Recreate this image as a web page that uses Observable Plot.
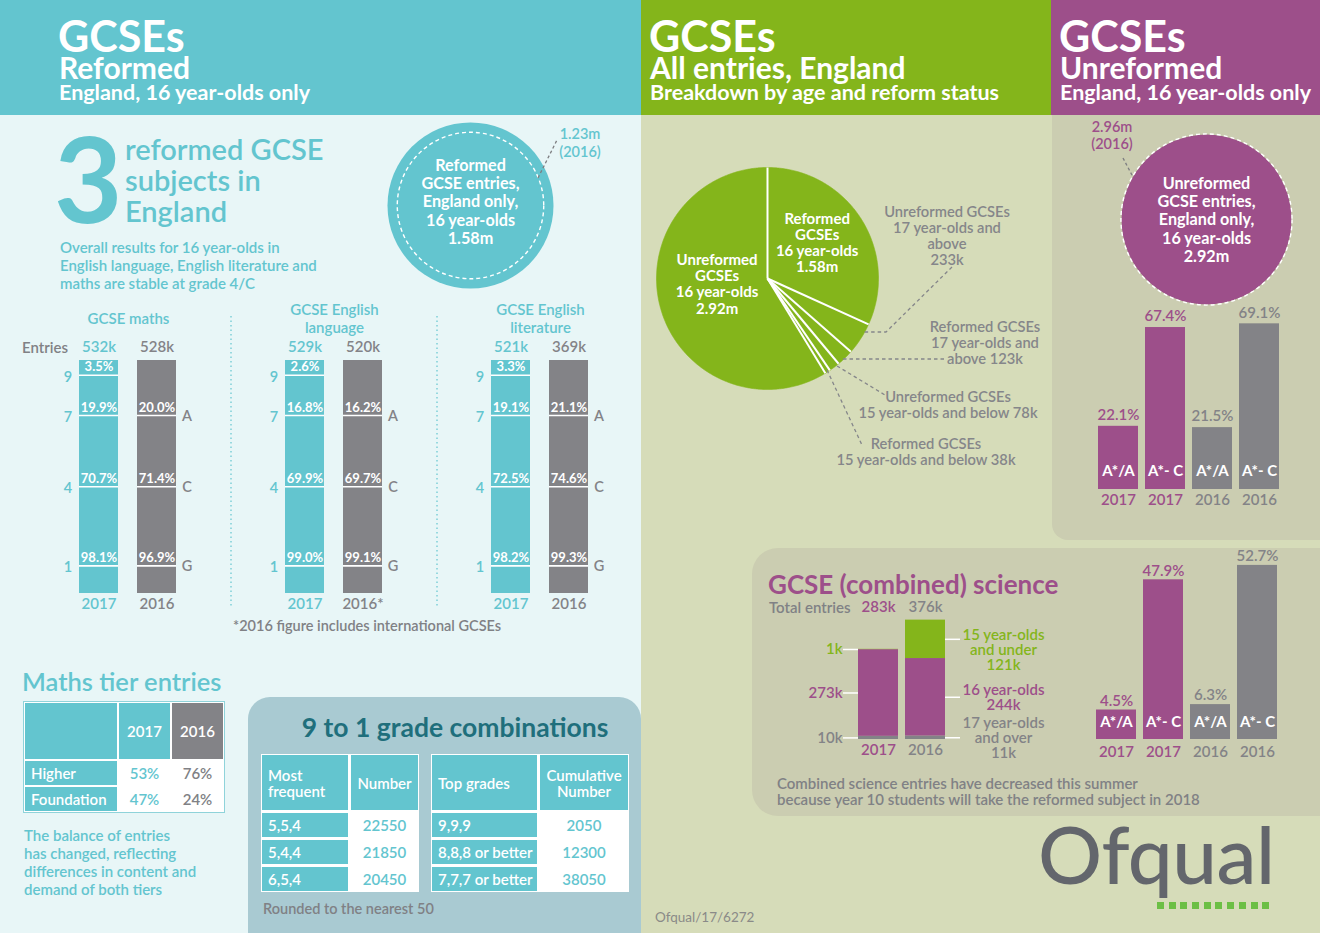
<!DOCTYPE html>
<html><head><meta charset="utf-8">
<script src="https://cdn.jsdelivr.net/npm/d3@7"></script>
<script src="https://cdn.jsdelivr.net/npm/@observablehq/plot@0.6"></script>
<style>
html,body{margin:0;padding:0;background:#d6dcb9;}
#root{position:relative;width:1320px;height:933px;overflow:hidden;background:#d6dcb9;font-family:Lato,"Open Sans",sans-serif;}
#root > svg{position:absolute;overflow:visible;}
</style></head>
<body><div id="root"></div>
<script>
// ---------------- DATA ----------------
const subjects = ["GCSE maths", "GCSE English language", "GCSE English literature"];
const subjectTitles = ["GCSE maths", "GCSE English\nlanguage", "GCSE English\nliterature"];
const years = ["2017", "2016"];
const yearLabels2016 = ["2016", "2016*", "2016"];
const entries2017 = [532, 529, 521];           // thousands
const entries2016 = [528, 520, 369];
const grades = [9, 7, 4, 1];
const letterGrades = [null, "A", "C", "G"];
const cumPct2017 = [[3.5, 19.9, 70.7, 98.1], [2.6, 16.8, 69.9, 99.0], [3.3, 19.1, 72.5, 98.2]];
const cumPct2016 = [[null, 20.0, 71.4, 96.9], [null, 16.2, 69.7, 99.1], [null, 21.1, 74.6, 99.3]];

const reformedEntries = [1.58, 1.23];          // millions: 2017, 2016
const unreformedEntries = [2.92, 2.96];

const pieSlices = ["Reformed GCSEs 16 year-olds", "Unreformed GCSEs 17 year-olds and above",
  "Reformed GCSEs 17 year-olds and above", "Unreformed GCSEs 15 year-olds and below",
  "Reformed GCSEs 15 year-olds and below", "Unreformed GCSEs 16 year-olds"];
const pieEntries = [1580, 233, 123, 78, 38, 2920];   // thousands

const unrefGrades = ["A*/A", "A*- C", "A*/A", "A*- C"];
const unrefYears = ["2017", "2017", "2016", "2016"];
const unrefPct = [22.1, 67.4, 21.5, 69.1];

const sciYears = ["2017", "2016"];
const sciAgeGroups = ["17 year-olds and over", "16 year-olds", "15 year-olds and under"];
const sciEntries2017 = [10, 273, 1];
const sciEntries2016 = [11, 244, 121];
const sciTotals = [283, 376];
const sciGrades = ["A*/A", "A*- C", "A*/A", "A*- C"];
const sciGradeYears = ["2017", "2017", "2016", "2016"];
const sciPct = [4.5, 47.9, 6.3, 52.7];

const tierNames = ["Higher", "Foundation"];
const tierPct2017 = [53, 47];
const tierPct2016 = [76, 24];

const frequentCombos = ["5,5,4", "5,4,4", "6,5,4"];
const frequentNumbers = [22550, 21850, 20450];
const topGradeCombos = ["9,9,9", "8,8,8 or better", "7,7,7 or better"];
const topGradeCumulative = [2050, 12300, 38050];

// ---------------- STYLE ----------------
const FONT = "Lato, 'Open Sans', sans-serif";
const C = {teal: "#63c5cf", tealBg: "#e8f6f7", grey: "#838387", greyText: "#808185", purple: "#9d4f8a",
  green: "#84b51b", olive: "#d6dcb9", oliveDark: "#cbcdb1", blueGrey: "#a9cad2", darkTeal: "#1f6f7c"};
const baseStyle = {background: "transparent", fontFamily: FONT, overflow: "visible"};
const root = document.getElementById("root");

function box(x, y, w, h, bg, extra = "") {
  const d = document.createElement("div");
  d.style.cssText = `position:absolute;left:${x}px;top:${y}px;width:${w}px;height:${h}px;background:${bg};${extra}`;
  root.appendChild(d); return d;
}
function label(str, {x, y, size = 14, weight = 600, color = C.greyText, align = "left", lh = Math.round(size * 1.2), extra = ""}) {
  const d = document.createElement("div");
  let left = x;
  if (align === "center") left = x - 400;
  if (align === "right") left = x - 800;
  d.style.cssText = `position:absolute;left:${left}px;top:${y - lh / 2}px;width:${align === "left" ? "auto" : "800px"};font:${weight} ${size}px/${lh}px ${FONT};color:${color};text-align:${align};white-space:pre;${extra}`;
  d.textContent = str;
  root.appendChild(d); return d;
}
function place(node, x, y) {
  node.style.position = "absolute"; node.style.left = x + "px"; node.style.top = y + "px";
  root.appendChild(node);
}

// ---------------- BACKGROUND PANELS ----------------
box(0, 0, 641, 933, C.tealBg);
box(0, 0, 641, 115, C.teal);
box(641, 0, 410, 115, C.green);
box(1051, 0, 269, 115, C.purple);
box(1052, 115, 268, 425, C.oliveDark, "border-bottom-left-radius:16px;");
box(752, 548, 568, 268, C.oliveDark, "border-radius:26px 0 0 26px;");
box(248, 697, 393, 236, C.blueGrey, "border-radius:22px 22px 0 0;");

// ---------------- HEADERS ----------------
function header(x, title, sub1, sub2) {
  label(title, {x: x - 1, y: 36, size: 43, weight: 700, color: "#fff", lh: 32});
  label(sub1, {x, y: 67, size: 30, weight: 700, color: "#fff", lh: 26});
  label(sub2, {x, y: 92, size: 21.5, weight: 700, color: "#fff", lh: 22});
}
header(59, "GCSEs", "Reformed", "England, 16 year-olds only");
header(650, "GCSEs", "All entries, England", "Breakdown by age and reform status");
header(1060, "GCSEs", "Unreformed", "England, 16 year-olds only");

// ---------------- LEFT: intro ----------------
label(String(subjects.length), {x: 54, y: 178, size: 118, weight: 700, color: C.teal, lh: 100});
label("reformed GCSE\nsubjects in\nEngland", {x: 125, y: 148, size: 29, weight: 600, color: C.teal, lh: 31});
label("Overall results for 16 year-olds in\nEnglish language, English literature and\nmaths are stable at grade 4/C",
  {x: 60, y: 247, size: 15, weight: 600, color: C.teal, lh: 18});

function bubble(values, color, r, text, dy) {
  return Plot.plot({
    width: 2 * r + 20, height: 2 * r + 20, margin: 0, style: baseStyle,
    x: {domain: [-1, 1], axis: null}, y: {domain: [-1, 1], axis: null},
    r: {type: "sqrt", domain: [0, values[0]], range: [0, r]},
    marks: [
      Plot.dot([values[0]], {x: () => 0, y: () => 0, r: d => d, fill: color, stroke: null}),
      Plot.dot([values[1]], {x: () => 0, y: () => 0, r: d => d, fill: "none", stroke: "white", strokeWidth: 1.4, strokeDasharray: "4,3"}),
      Plot.text([text], {x: () => 0, y: () => 0, text: d => d, fill: "white", fontSize: 16.2, fontWeight: 700, lineAnchor: "middle", lineHeight: 1.13, dy})
    ]
  });
}
place(bubble(reformedEntries, C.teal, 83, `Reformed\nGCSE entries,\nEngland only,\n16 year-olds\n${reformedEntries[0].toFixed(2)}m`, -4), 470 - 93, 205 - 93);
label(`${reformedEntries[1].toFixed(2)}m\n(2016)`, {x: 580, y: 134, size: 14.5, weight: 600, color: C.teal, align: "center", lh: 18});

// ---------------- LEFT: reformed grade bars ----------------
const GRADE_TOP = 10, GRADE_BOTTOM = 0;
const depth = g => GRADE_TOP - g;
const barRows = [], boundaryRows = [];
subjects.forEach((s, i) => {
  years.forEach((yr, k) => {
    barRows.push({subject: s, year: yr, entries: (k === 0 ? entries2017 : entries2016)[i], yearLabel: k === 0 ? yr : yearLabels2016[i]});
    const cum = (k === 0 ? cumPct2017 : cumPct2016)[i];
    grades.forEach((g, j) => {
      if (cum[j] != null) boundaryRows.push({subject: s, year: yr, grade: g, letter: letterGrades[j], pct: cum[j]});
    });
  });
});
const reformedPlot = Plot.plot({
  width: 644, height: 340, marginLeft: 24, marginRight: 0, marginTop: 70, marginBottom: 37, style: baseStyle,
  fx: {domain: subjects, padding: 0, axis: null},
  x: {domain: years, paddingInner: 0.322, paddingOuter: 0.9125, axis: null},
  y: {type: "pow", exponent: 1.2, domain: [0, 10], reverse: true, axis: null},
  color: {domain: years, range: [C.teal, C.grey]},
  marks: [
    Plot.barY(barRows, {fx: "subject", x: "year", y1: () => depth(GRADE_TOP), y2: () => depth(GRADE_BOTTOM), fill: "year"}),
    Plot.tickY(boundaryRows, {fx: "subject", x: "year", y: d => depth(d.grade), stroke: "white", strokeWidth: 1.6}),
    Plot.text(boundaryRows, {fx: "subject", x: "year", y: d => depth(d.grade), text: d => d.pct.toFixed(1) + "%", fill: "white", fontSize: 13, fontWeight: 700, dy: -8}),
    Plot.text(boundaryRows.filter(d => d.year === "2017"), {fx: "subject", x: "year", y: d => depth(d.grade), text: d => String(d.grade), fill: "year", dx: -31, dy: 2, fontSize: 14.5, fontWeight: 600}),
    Plot.text(boundaryRows.filter(d => d.year === "2016" && d.letter), {fx: "subject", x: "year", y: d => depth(d.grade), text: "letter", fill: "year", dx: 30, dy: 1, fontSize: 14.5, fontWeight: 600}),
    Plot.text(barRows, {fx: "subject", x: "year", y: () => depth(GRADE_TOP), text: d => d.entries + "k", fill: "year", dy: -13, fontSize: 15, fontWeight: 600}),
    Plot.text(barRows, {fx: "subject", x: "year", y: () => depth(GRADE_BOTTOM), text: "yearLabel", fill: "year", dy: 11, fontSize: 15, fontWeight: 600}),
    Plot.text(subjects, {fx: d => d, frameAnchor: "top", text: (d, i) => subjectTitles[i], fill: C.teal, dy: -42, lineAnchor: "middle", fontSize: 15, fontWeight: 600, lineHeight: 1.2})
  ]
});
place(reformedPlot, 0, 290);
label("Entries", {x: 22, y: 347, size: 15, weight: 600});
label("*2016 figure includes international GCSEs", {x: 233, y: 625, size: 14.5, weight: 600});

// ---------------- LEFT: maths tier table ----------------
label("Maths tier entries", {x: 22, y: 681, size: 25.5, weight: 600, color: C.teal, lh: 28});
function grid(x, y, cols, rows, gap, cells, extra = "") {
  const g = document.createElement("div");
  g.style.cssText = `position:absolute;left:${x}px;top:${y}px;display:grid;grid-template-columns:${cols.map(c => c + "px").join(" ")};grid-template-rows:${rows.map(r => r + "px").join(" ")};gap:${gap}px;background:#fff;padding:1px;${extra}`;
  cells.forEach(c => {
    const d = document.createElement("div");
    const left = c.align === "left";
    d.style.cssText = `background:${c.bg};color:${c.color || "#fff"};display:flex;align-items:center;justify-content:${left ? "flex-start" : "center"};padding-left:${left ? 6 : 0}px;font:600 15px/16px ${FONT};white-space:pre;text-align:${left ? "left" : "center"};overflow:hidden;`;
    d.textContent = c.text || "";
    g.appendChild(d);
  });
  root.appendChild(g);
}
const tierCells = [{bg: C.teal, text: ""}, {bg: C.teal, text: years[0]}, {bg: C.grey, text: years[1]}];
tierNames.forEach((n, i) => {
  tierCells.push({bg: C.teal, text: n, align: "left"}, {bg: "#fff", color: C.teal, text: tierPct2017[i] + "%"}, {bg: "#fff", color: C.greyText, text: tierPct2016[i] + "%"});
});
grid(24, 702, [92, 51, 51], [56, 24, 24], 2, tierCells, "outline:1.5px solid #8fd3da;");
label("The balance of entries\nhas changed, reflecting\ndifferences in content and\ndemand of both tiers", {x: 24, y: 835, size: 15, weight: 600, color: C.teal, lh: 18});

// ---------------- LEFT: 9 to 1 combinations ----------------
label("9 to 1 grade combinations", {x: 455, y: 727, size: 26.5, weight: 700, color: C.darkTeal, align: "center", lh: 30});
const freqCells = [{bg: C.teal, text: "Most\nfrequent", align: "left"}, {bg: C.teal, text: "Number"}];
frequentCombos.forEach((c, i) => freqCells.push({bg: C.teal, text: c, align: "left"}, {bg: "#fff", color: C.teal, text: String(frequentNumbers[i])}));
grid(261, 754, [86, 67], [55, 24, 24, 24], 3, freqCells);
const topCells = [{bg: C.teal, text: "Top grades", align: "left"}, {bg: C.teal, text: "Cumulative\nNumber"}];
topGradeCombos.forEach((c, i) => topCells.push({bg: C.teal, text: c, align: "left"}, {bg: "#fff", color: C.teal, text: String(topGradeCumulative[i])}));
grid(431, 754, [105, 88], [55, 24, 24, 24], 3, topCells);
label("Rounded to the nearest 50", {x: 263, y: 908, size: 14.5, weight: 600});

// ---------------- MIDDLE: pie ----------------
const pieArcs = d3.pie().sort(null).value(d => d)(pieEntries);
const pieOutline = [];
pieArcs.forEach((a, i) => {
  const n = Math.max(2, Math.ceil((a.endAngle - a.startAngle) / 0.01));
  pieOutline.push({slice: i, x: 0, y: 0});
  for (let k = 0; k <= n; k++) {
    const t = a.startAngle + (a.endAngle - a.startAngle) * k / n;
    pieOutline.push({slice: i, x: Math.sin(t), y: Math.cos(t)});
  }
  pieOutline.push({slice: i, x: 0, y: 0});
});
const fmtM = v => (v / 1000).toFixed(2) + "m";
const piePlot = Plot.plot({
  width: 240, height: 240, margin: 9, style: baseStyle,
  x: {domain: [-1, 1], axis: null}, y: {domain: [-1, 1], axis: null},
  marks: [
    Plot.line(pieOutline, {x: "x", y: "y", z: "slice", fill: C.green, stroke: C.green, strokeWidth: 0.6, curve: "linear"}),
    Plot.link(pieArcs, {x1: () => 0, y1: () => 0, x2: a => Math.sin(a.startAngle), y2: a => Math.cos(a.startAngle), stroke: "white", strokeWidth: 2}),
    Plot.text(pieArcs.filter(a => a.value >= 1000), {
      x: a => 0.5 * Math.sin((a.startAngle + a.endAngle) / 2), y: a => 0.46 * Math.cos((a.startAngle + a.endAngle) / 2),
      text: a => `${pieSlices[a.index].split(" ")[0]}\nGCSEs\n16 year-olds\n${fmtM(a.value)}`,
      fill: "white", fontSize: 15, fontWeight: 700, lineAnchor: "middle", lineHeight: 1.07, dy: -8, dx: 3
    })
  ]
});
place(piePlot, 647, 158);
const pieGrey = "#85868a";
label(`Unreformed GCSEs\n17 year-olds and\nabove\n${pieEntries[1]}k`, {x: 947, y: 211, size: 14.7, color: pieGrey, align: "center", lh: 16});
label(`Reformed GCSEs\n17 year-olds and\nabove ${pieEntries[2]}k`, {x: 985, y: 326, size: 14.7, color: pieGrey, align: "center", lh: 16});
label(`Unreformed GCSEs\n15 year-olds and below ${pieEntries[3]}k`, {x: 948, y: 396, size: 14.7, color: pieGrey, align: "center", lh: 16});
label(`Reformed GCSEs\n15 year-olds and below ${pieEntries[4]}k`, {x: 926, y: 443, size: 14.7, color: pieGrey, align: "center", lh: 16});

// ---------------- RIGHT: unreformed ----------------
place(bubble(unreformedEntries, C.purple, 85, `Unreformed\nGCSE entries,\nEngland only,\n16 year-olds\n${unreformedEntries[0].toFixed(2)}m`, 0), 1206 - 95, 219 - 95);
label(`${unreformedEntries[1].toFixed(2)}m\n(2016)`, {x: 1112, y: 126, size: 14.5, weight: 600, color: C.purple, align: "center", lh: 17});

const sideYearColor = {"2017": C.purple, "2016": C.grey};
function gradeBars(gr, yrs, pct, o) {
  const rows = gr.map((g, i) => ({key: i, grade: g, year: yrs[i], pct: pct[i]}));
  return Plot.plot({
    width: 201, height: o.height, marginLeft: 10, marginRight: 10, marginTop: o.marginTop, marginBottom: o.marginBottom, style: baseStyle,
    x: {domain: rows.map(d => d.key), paddingInner: 0.15, paddingOuter: 0, axis: null},
    y: {domain: [0, o.ymax], axis: null},
    color: {domain: years, range: [C.purple, C.grey]},
    marks: [
      Plot.barY(rows, {x: "key", y: "pct", fill: "year", insetBottom: -o.ext}),
      Plot.text(rows, {x: "key", y: "pct", text: d => d.pct.toFixed(1) + "%", fill: "year", dy: o.valueDy, fontSize: 15, fontWeight: 600}),
      Plot.text(rows, {x: "key", y: () => 0, text: "grade", fill: "white", dy: o.gradeDy, fontSize: 15, fontWeight: 700}),
      Plot.text(rows, {x: "key", y: () => 0, text: "year", fill: "year", dy: o.yearDy, fontSize: 15, fontWeight: 600})
    ]
  });
}
place(gradeBars(unrefGrades, unrefYears, unrefPct, {height: 220, marginTop: 22, marginBottom: 41, ymax: 72, ext: 15, valueDy: -11, gradeDy: -3, yearDy: 26}), 1088, 295);

// ---------------- SCIENCE ----------------
label("GCSE (combined) science", {x: 768, y: 584, size: 26, weight: 700, color: C.purple, lh: 28});
label("Total entries", {x: 769, y: 607, size: 15, weight: 600});
const sciRows = [];
sciYears.forEach((yr, i) => {
  let acc = 0;
  sciAgeGroups.forEach((g, j) => {
    const v = (i === 0 ? sciEntries2017 : sciEntries2016)[j];
    sciRows.push({year: yr, group: g, value: v, lo: acc, hi: acc + v, mid: acc + v / 2});
    acc += v;
  });
});
const groupText = d => d.group.replace(" and", "\nand") + "\n" + d.value + "k";
const sciStack = Plot.plot({
  width: 270, height: 168, marginLeft: 68, marginRight: 115, marginTop: 20, marginBottom: 21, style: baseStyle,
  x: {domain: sciYears, paddingInner: 0.149, paddingOuter: 0, axis: null},
  y: {domain: [0, 400], axis: null},
  color: {domain: sciAgeGroups, range: [C.grey, C.purple, C.green]},
  marks: [
    Plot.rectY(sciRows, {x: "year", y1: "lo", y2: "hi", fill: "group"}),
    Plot.tickY(sciRows.filter(d => d.year === sciYears[0]), {x: "year", y: "mid", stroke: "white", strokeWidth: 1.5, insetLeft: -15, insetRight: 40}),
    Plot.tickY(sciRows.filter(d => d.year === sciYears[1]), {x: "year", y: "mid", stroke: "white", strokeWidth: 1.5, insetLeft: 40, insetRight: -15}),
    Plot.text(sciRows.filter(d => d.year === sciYears[0]), {x: "year", y: "mid", text: d => d.value + "k", fill: "group", textAnchor: "end", dx: -36, fontSize: 15, fontWeight: 600}),
    Plot.text(sciRows.filter(d => d.year === sciYears[1] && d.group !== sciAgeGroups[2]), {x: "year", y: "mid", text: groupText, fill: "group", dx: 78, lineAnchor: "middle", lineHeight: 1.0, fontSize: 15, fontWeight: 600}),
    Plot.text(sciRows.filter(d => d.year === sciYears[1] && d.group === sciAgeGroups[2]), {x: "year", y: "mid", text: groupText, fill: "group", dx: 78, dy: 11, lineAnchor: "middle", lineHeight: 1.0, fontSize: 15, fontWeight: 600}),
    ...sciYears.map((yr, i) => Plot.text([yr], {x: d => d, frameAnchor: "top", lineAnchor: "middle", dy: -5, text: () => sciTotals[i] + "k", fill: sideYearColor[yr], fontSize: 15, fontWeight: 600})),
    ...sciYears.map(yr => Plot.text([yr], {x: d => d, y: () => 0, dy: 11, text: d => d, fill: sideYearColor[yr], fontSize: 15, fontWeight: 600}))
  ]
});
place(sciStack, 790, 592);
place(gradeBars(sciGrades, sciGradeYears, sciPct, {height: 220, marginTop: 15, marginBottom: 37, ymax: 56, ext: 16, valueDy: -9, gradeDy: -1, yearDy: 29}), 1086, 540);
label("Combined science entries have decreased this summer\nbecause year 10 students will take the reformed subject in 2018",
  {x: 777, y: 783, size: 15, weight: 600, lh: 16});

// ---------------- LOGO & REF ----------------
label("Ofqual", {x: 1038, y: 853, size: 80, weight: 500, color: "#63666c", lh: 80, extra: "letter-spacing:-0.5px;"});
box(1157, 902, 117, 7, "repeating-linear-gradient(to right,#6cbf45 0 7px,transparent 7px 11.7px)");
label("Ofqual/17/6272", {x: 655, y: 917, size: 13.5, weight: 400, color: "#8a8a88"});

// ---------------- LEADERS & SEPARATORS ----------------
const overlay = d3.create("svg").attr("width", 1320).attr("height", 933)
  .style("position", "absolute").style("left", "0px").style("top", "0px").style("pointer-events", "none");
function poly(points, color, dash, w = 1.3) {
  overlay.append("polyline").attr("points", points.map(p => p.join(",")).join(" "))
    .attr("fill", "none").attr("stroke", color).attr("stroke-width", w).attr("stroke-dasharray", dash);
}
poly([[231, 316], [231, 607]], C.teal, "1.5,3", 1.2);
poly([[437, 316], [437, 607]], C.teal, "1.5,3", 1.2);
poly([[538, 178], [557, 140]], "#7d7d80", "3,2.5");
poly([[1123, 158], [1133, 177]], "#7d7d80", "3,2.5");
poly([[952, 267], [886, 332], [863, 332]], "#85868a", "3.5,3");
poly([[843, 359], [944, 359]], "#85868a", "3.5,3");
poly([[837, 366], [885, 395]], "#85868a", "3.5,3");
poly([[827, 370], [862, 445]], "#85868a", "3.5,3");
root.appendChild(overlay.node());
</script>
</body></html>
